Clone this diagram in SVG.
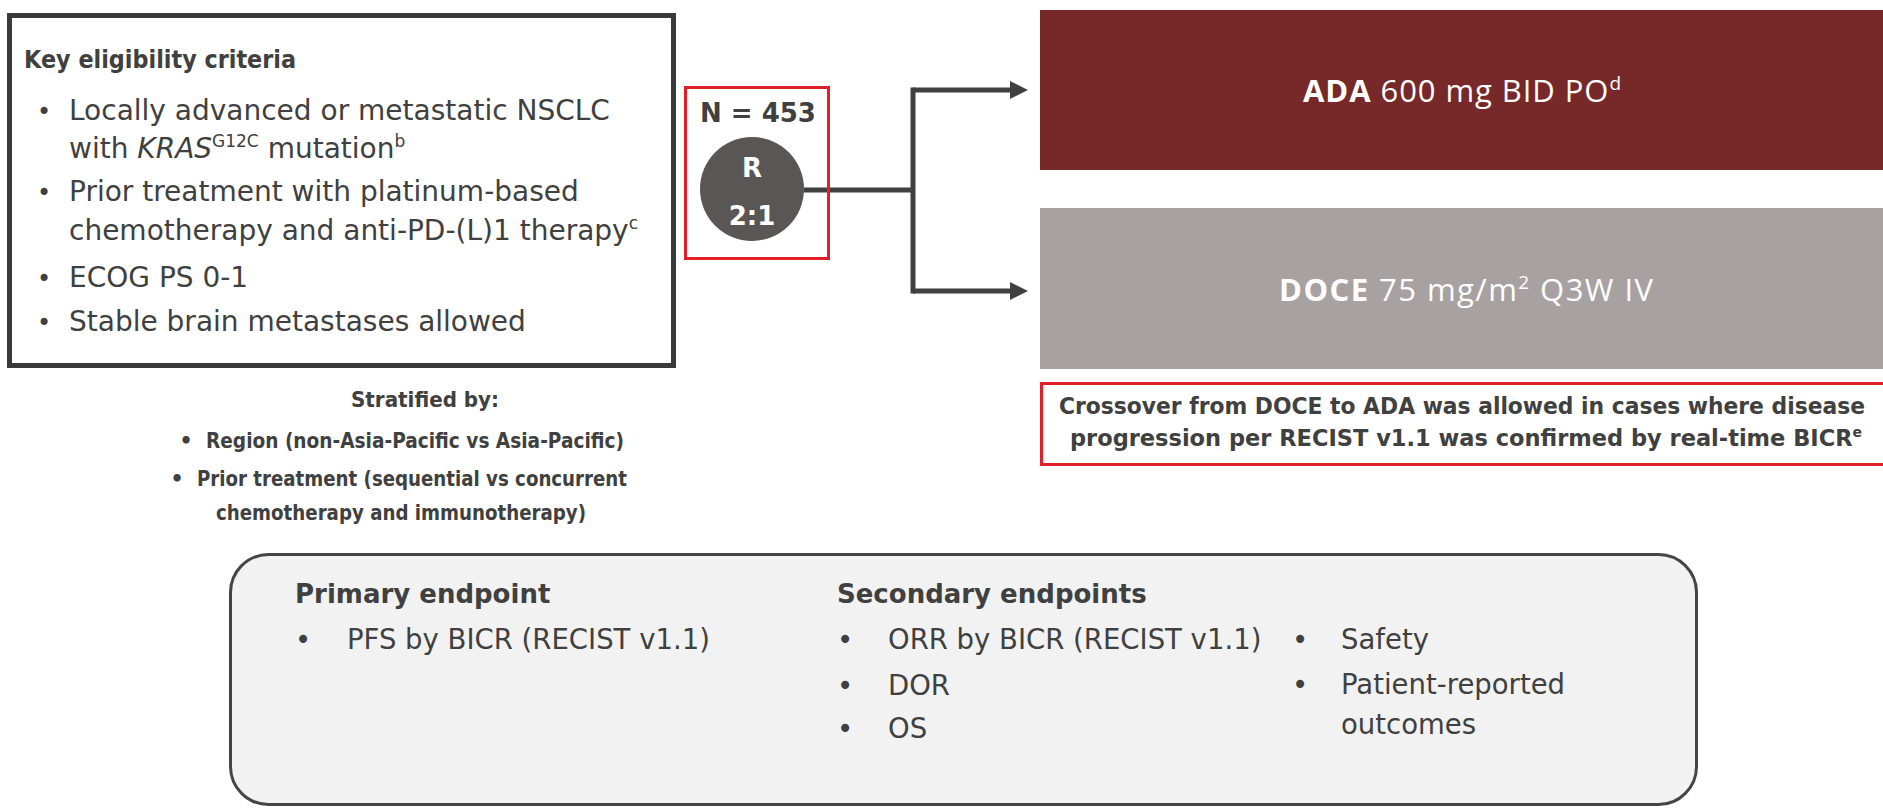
<svg xmlns="http://www.w3.org/2000/svg" width="1883" height="808" viewBox="0 0 1883 808">
<defs>
<style>
text{font-family:"DejaVu Sans","Liberation Sans",sans-serif;fill:#404040}
.b{font-weight:bold}
.body{font-size:28px}
.strat{font-size:20.5px;font-weight:bold}
.ep{font-size:27.5px}
.eph{font-size:26px;font-weight:bold}
.arm{font-family:"Open Sans","DejaVu Sans",sans-serif;font-size:31px;fill:#ffffff}
.wht{fill:#ffffff}
.conn{fill:none;stroke:#404040;stroke-width:5}
.redbox{fill:none;stroke:#e01f26;stroke-width:3}
</style>
<marker id="ah" markerUnits="userSpaceOnUse" markerWidth="20" markerHeight="20" refX="5" refY="9" orient="auto">
<path d="M0,0 L18,9 L0,18 Z" fill="#404040"/>
</marker>
</defs>
<rect width="1883" height="808" fill="#ffffff"/>

<g id="eligibility">
<rect x="9.5" y="15.5" width="664" height="350" fill="#ffffff" stroke="#3a3a3a" stroke-width="5"/>
<text class="b" x="24" y="68" font-size="25.5" textLength="272" lengthAdjust="spacingAndGlyphs">Key eligibility criteria</text>
<g font-size="24">
<text x="44" y="120" text-anchor="middle">•</text>
<text x="44" y="201" text-anchor="middle">•</text>
<text x="44" y="287" text-anchor="middle">•</text>
<text x="44" y="331" text-anchor="middle">•</text>
</g>
<text class="body" x="69" y="120">Locally advanced or metastatic NSCLC</text>
<text class="body" x="69" y="158">with <tspan font-style="italic">KRAS</tspan><tspan font-size="17" dy="-11">G12C</tspan><tspan dy="11"> mutation</tspan><tspan font-size="17" dy="-11">b</tspan></text>
<text class="body" x="69" y="201">Prior treatment with platinum-based</text>
<text class="body" x="69" y="240">chemotherapy and anti-PD-(L)1 therapy<tspan font-size="17" dy="-11">c</tspan></text>
<text class="body" x="69" y="287">ECOG PS 0-1</text>
<text class="body" x="69" y="331">Stable brain metastases allowed</text>
</g>

<g id="stratification">
<text class="strat" x="425" y="407" text-anchor="middle" textLength="148" lengthAdjust="spacingAndGlyphs">Stratified by:</text>
<text class="strat" x="186" y="448" text-anchor="middle">•</text>
<text class="strat" x="206" y="448" textLength="418" lengthAdjust="spacingAndGlyphs">Region (non-Asia-Pacific vs Asia-Pacific)</text>
<text class="strat" x="177" y="486" text-anchor="middle">•</text>
<text class="strat" x="197" y="486" textLength="430" lengthAdjust="spacingAndGlyphs">Prior treatment (sequential vs concurrent</text>
<text class="strat" x="216" y="520" textLength="370" lengthAdjust="spacingAndGlyphs">chemotherapy and immunotherapy)</text>
</g>

<g id="arm-ada">
<rect x="1040" y="10" width="843" height="160" fill="#772828"/>
<text class="arm" x="1462" y="102" text-anchor="middle" textLength="318" lengthAdjust="spacing"><tspan font-weight="bold">ADA</tspan> 600 mg BID PO<tspan font-size="19" dy="-12">d</tspan></text>
</g>

<g id="arm-doce">
<rect x="1040" y="208" width="843" height="161" fill="#a8a1a2"/>
<text class="arm" x="1466" y="301" text-anchor="middle" textLength="374" lengthAdjust="spacing"><tspan font-weight="bold">DOCE</tspan> 75 mg/m<tspan font-size="19" dy="-12">2</tspan><tspan dy="12"> Q3W IV</tspan></text>
</g>

<g id="crossover">
<rect class="redbox" x="1041.5" y="383.5" width="900" height="81" fill="#ffffff"/>
<text class="b" x="1462" y="414" text-anchor="middle" font-size="22.5" textLength="806" lengthAdjust="spacingAndGlyphs">Crossover from DOCE to ADA was allowed in cases where disease</text>
<text class="b" x="1466" y="446" text-anchor="middle" font-size="22.5">progression per RECIST v1.1 was confirmed by real-time BICR<tspan font-size="14" dy="-9">e</tspan></text>
</g>

<g id="connectors">
<path class="conn" d="M804 190 H913"/>
<path class="conn" d="M913 87.5 V293.5"/>
<path class="conn" d="M913 90 H1015" marker-end="url(#ah)"/>
<path class="conn" d="M913 291 H1015" marker-end="url(#ah)"/>
</g>

<g id="randomization">
<rect class="redbox" x="685.5" y="87.5" width="143" height="171"/>
<text class="b" x="758" y="122" text-anchor="middle" font-size="26">N = 453</text>
<circle cx="752" cy="189" r="52" fill="#5b5656"/>
<text class="b wht" x="752" y="177" text-anchor="middle" font-size="26">R</text>
<text class="b wht" x="752" y="225" text-anchor="middle" font-size="26">2:1</text>
</g>

<g id="endpoints">
<rect x="230.5" y="554.5" width="1466" height="250" rx="38" ry="38" fill="#f2f2f2" stroke="#454545" stroke-width="3"/>
<text class="eph" x="295" y="603">Primary endpoint</text>
<text class="ep" x="303" y="649" text-anchor="middle">•</text>
<text class="ep" x="347" y="649">PFS by BICR (RECIST v1.1)</text>
<text class="eph" x="837" y="603">Secondary endpoints</text>
<text class="ep" x="845" y="649" text-anchor="middle">•</text>
<text class="ep" x="888" y="649">ORR by BICR (RECIST v1.1)</text>
<text class="ep" x="845" y="695" text-anchor="middle">•</text>
<text class="ep" x="888" y="695">DOR</text>
<text class="ep" x="845" y="738" text-anchor="middle">•</text>
<text class="ep" x="888" y="738">OS</text>
<text class="ep" x="1300" y="649" text-anchor="middle">•</text>
<text class="ep" x="1341" y="649">Safety</text>
<text class="ep" x="1300" y="694" text-anchor="middle">•</text>
<text class="ep" x="1341" y="694">Patient-reported</text>
<text class="ep" x="1341" y="734">outcomes</text>
</g>
</svg>
